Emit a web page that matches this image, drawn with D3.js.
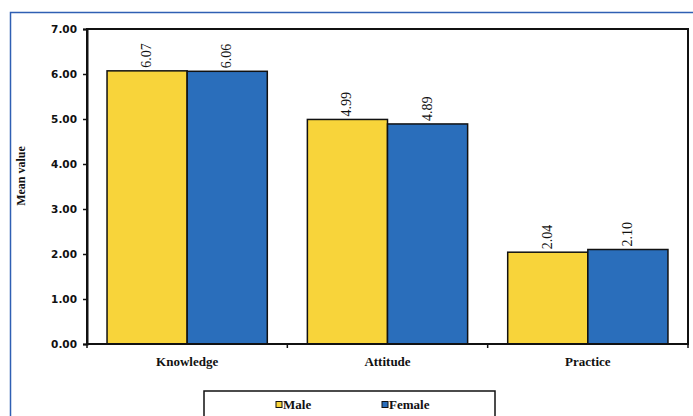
<!DOCTYPE html>
<html>
<head>
<meta charset="utf-8">
<script src="https://cdn.jsdelivr.net/npm/d3@7"></script>
<style>
  html, body { margin: 0; padding: 0; background: #fff; }
  svg { display: block; }
</style>
</head>
<body>
<svg id="chart" width="693" height="416"></svg>
<script>
// Mean scores by domain and gender
const categories = ["Knowledge", "Attitude", "Practice"];
const seriesNames = ["Male", "Female"];
const maleValues = [6.07, 4.99, 2.04];
const femaleValues = [6.06, 4.89, 2.10];
const yTicks = [0, 1, 2, 3, 4, 5, 6, 7];

const colors = { Male: "#f8d43a", Female: "#2a6ebb" };
const seriesValues = { Male: maleValues, Female: femaleValues };

const svg = d3.select("#chart");

// outer frame (blue rule across the top and down the left side)
svg.append("path")
  .attr("d", "M10.5,420 L10.5,12.5 L700,12.5")
  .attr("fill", "none")
  .attr("stroke", "#2f5fb3")
  .attr("stroke-width", 1.5);

const plot = { left: 87, right: 688, top: 29, bottom: 344 };

const x = d3.scaleBand()
  .domain(categories)
  .range([plot.left, plot.right])
  .paddingInner(0.2)
  .paddingOuter(0.1);

const xs = d3.scaleBand()
  .domain(seriesNames)
  .range([0, x.bandwidth()]);

const y = d3.scaleLinear()
  .domain([0, 7])
  .range([plot.bottom, plot.top]);

// bars
const groups = svg.append("g").selectAll("g")
  .data(categories)
  .join("g")
  .attr("transform", d => `translate(${x(d)},0)`);

groups.selectAll("rect")
  .data((c, i) => seriesNames.map(s => ({ s, v: seriesValues[s][i] })))
  .join("rect")
  .attr("x", d => xs(d.s))
  .attr("y", d => y(d.v))
  .attr("width", xs.bandwidth())
  .attr("height", d => y(0) - y(d.v))
  .attr("fill", d => colors[d.s])
  .attr("stroke", "#111")
  .attr("stroke-width", 1.5);

// value labels, rotated above each bar
groups.selectAll("text.val")
  .data((c, i) => seriesNames.map(s => ({ s, v: seriesValues[s][i] })))
  .join("text")
  .attr("class", "val")
  .attr("transform", d => `translate(${xs(d.s) + xs.bandwidth() / 2 + 4},${y(d.v) - 3}) rotate(-90)`)
  .attr("font-family", "'Liberation Serif', 'Times New Roman', serif")
  .attr("font-size", 14)
  .attr("fill", "#111")
  .text(d => d.v.toFixed(2));

// plot frame
svg.append("rect")
  .attr("x", plot.left)
  .attr("y", plot.top)
  .attr("width", plot.right - plot.left)
  .attr("height", plot.bottom - plot.top)
  .attr("fill", "none")
  .attr("stroke", "#111")
  .attr("stroke-width", 2);

// y axis
const yAxis = svg.append("g")
  .attr("transform", `translate(${plot.left},0)`)
  .call(d3.axisLeft(y).tickValues(yTicks).tickFormat(d3.format(".2f")).tickSize(4).tickPadding(6));
yAxis.select(".domain").attr("stroke", "#111").attr("stroke-width", 2);
yAxis.selectAll(".tick line").attr("stroke", "#111").attr("stroke-width", 1.5);
yAxis.selectAll(".tick text")
  .attr("font-family", "'DejaVu Sans', Verdana, sans-serif")
  .attr("font-weight", "bold")
  .attr("font-size", 10.5)
  .attr("fill", "#111");

// x axis: ticks sit on category boundaries
const xAxis = svg.append("g")
  .attr("transform", `translate(0,${plot.bottom})`);
xAxis.append("line")
  .attr("x1", plot.left).attr("x2", plot.right)
  .attr("stroke", "#111").attr("stroke-width", 2);
const boundaries = [plot.left, ...categories.slice(1).map(c => x(c) - x.step() * x.paddingInner() / 2), plot.right];
xAxis.selectAll("line.tick")
  .data(boundaries)
  .join("line")
  .attr("class", "tick")
  .attr("x1", d => d).attr("x2", d => d)
  .attr("y1", 0).attr("y2", 4)
  .attr("stroke", "#111").attr("stroke-width", 1.5);
xAxis.selectAll("text")
  .data(categories)
  .join("text")
  .attr("x", d => x(d) + x.bandwidth() / 2)
  .attr("y", 22)
  .attr("text-anchor", "middle")
  .attr("font-family", "'Liberation Serif', 'Times New Roman', serif")
  .attr("font-weight", "bold")
  .attr("font-size", 13)
  .attr("fill", "#111")
  .text(d => d);

// y axis title
svg.append("text")
  .attr("transform", `translate(25,176) rotate(-90)`)
  .attr("text-anchor", "middle")
  .attr("font-family", "'Liberation Serif', 'Times New Roman', serif")
  .attr("font-weight", "bold")
  .attr("font-size", 12)
  .attr("fill", "#111")
  .text("Mean value");

// legend
const legend = svg.append("g");
legend.append("rect")
  .attr("x", 204).attr("y", 391)
  .attr("width", 291).attr("height", 40)
  .attr("fill", "#fff")
  .attr("stroke", "#111")
  .attr("stroke-width", 1.5);
const legendX = { Male: 276, Female: 382 };
const items = legend.selectAll("g.item")
  .data(seriesNames)
  .join("g")
  .attr("class", "item")
  .attr("transform", d => `translate(${legendX[d]},0)`);
items.append("rect")
  .attr("x", 0).attr("y", 401.5)
  .attr("width", 6).attr("height", 6)
  .attr("fill", d => colors[d])
  .attr("stroke", "#111")
  .attr("stroke-width", 1);
items.append("text")
  .attr("x", 7).attr("y", 409)
  .attr("font-family", "'Liberation Serif', 'Times New Roman', serif")
  .attr("font-weight", "bold")
  .attr("font-size", 13)
  .attr("fill", "#111")
  .text(d => d);
</script>
</body>
</html>
